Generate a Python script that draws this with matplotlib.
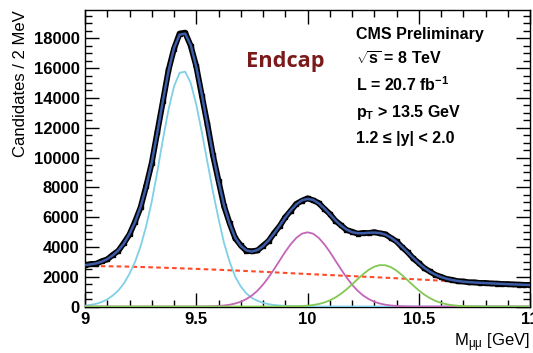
import numpy as np
import matplotlib
matplotlib.use('Agg')
import matplotlib.pyplot as plt

plt.rcParams['font.family'] = ['Liberation Sans', 'DejaVu Sans']
plt.rcParams['mathtext.fontset'] = 'custom'
plt.rcParams['mathtext.rm'] = 'Liberation Sans'
plt.rcParams['mathtext.it'] = 'Liberation Sans:italic'
plt.rcParams['mathtext.bf'] = 'Liberation Sans:bold'

# bin centres, 9 - 11 GeV
mass = np.linspace(9.0, 11.0, 81)

data = [2760, 2850, 2870, 3040, 3160, 3470, 3740, 4270, 4840, 5700,
        6660, 8090, 9640, 11720, 13760, 15850, 17300, 18320, 18380, 17500,
        16120, 14160, 12250, 10160, 8440, 6730, 5590, 4590, 4100, 3740,
        3710, 3760, 4080, 4400, 4930, 5400, 5990, 6430, 6890, 7100,
        7260, 7130, 6950, 6560, 6220, 5760, 5460, 5140, 5020, 4890,
        4940, 4930, 4990, 4910, 4850, 4600, 4370, 3980, 3650, 3230,
        2920, 2570, 2350, 2120, 1990, 1850, 1790, 1700, 1680, 1625,
        1620, 1580, 1580, 1545, 1540, 1510, 1505, 1480, 1475, 1450, 1445]

bkg = [2720, 2716, 2712, 2707, 2702, 2696, 2690, 2683, 2675, 2664,
       2653, 2641, 2630, 2618, 2605, 2593, 2580, 2566, 2553, 2539,
       2525, 2510, 2495, 2480, 2465, 2449, 2433, 2416, 2400, 2383,
       2365, 2348, 2330, 2311, 2293, 2274, 2255, 2236, 2218, 2199,
       2180, 2163, 2145, 2128, 2110, 2093, 2075, 2058, 2040, 2023,
       2005, 1988, 1970, 1951, 1933, 1914, 1895, 1875, 1855, 1835,
       1815, 1795, 1775, 1755, 1735, 1711, 1688, 1664, 1640, 1623,
       1605, 1588, 1570, 1553, 1535, 1518, 1500, 1485, 1470, 1455, 1440]

ups1s = [60, 110, 180, 300, 480, 740, 1080, 1550, 2200, 3000,
         4050, 5400, 7050, 9050, 11200, 13200, 14770, 15680, 15760, 15010,
         13550, 11700, 9700, 7700, 5900, 4250, 3000, 2000, 1350, 880,
         580, 380, 250, 160, 100, 65, 40, 25, 15, 9,
         5, 3, 2, 1] + [0] * 37

ups2s = [0] * 20 + [2, 5, 10, 20, 38, 68, 120, 200, 320, 500,
                    740, 1060, 1470, 1960, 2510, 3090, 3670, 4190, 4610, 4890,
                    4980, 4890, 4610, 4190, 3670, 3090, 2510, 1960, 1470, 1060,
                    740, 500, 320, 200, 120, 68, 38, 20, 10, 5, 2] + [0] * 20

ups3s = [0] * 36 + [4, 8, 16, 31, 57, 99, 167, 267, 411, 604,
                    851, 1148, 1483, 1833, 2171, 2462, 2674, 2780, 2768, 2640,
                    2409, 2106, 1763, 1413, 1084, 797, 561, 378, 244, 151,
                    89, 51, 27, 14, 7, 3] + [0] * 9

xticks = [9.0, 9.5, 10.0, 10.5, 11.0]
xtick_labels = ['9', '9.5', '10', '10.5', '11']
yticks = [0, 2000, 4000, 6000, 8000, 10000, 12000, 14000, 16000, 18000]
ytick_labels = [str(v) for v in yticks]

info = ['CMS Preliminary', r'$\mathbf{\sqrt{s}}$ = 8 TeV',
        r'L = 20.7 fb$^{\mathbf{-1}}$', r'p$_{\mathbf{T}}$ > 13.5 GeV',
        '1.2 \u2264 |y| < 2.0']

data = np.array(data, dtype=float)
total = np.array(bkg) + np.array(ups1s) + np.array(ups2s) + np.array(ups3s)

fig = plt.figure(figsize=(5.33, 3.53), dpi=100)
ax = fig.add_axes((0.1595, 0.1317, 0.8349, 0.8400))

ax.plot(mass, bkg, color='#ff4a2a', lw=1.5, ls=(0, (2.2, 1.6)), zorder=2)
ax.plot(mass, ups1s, color='#7fd0e6', lw=1.3, zorder=3)
ax.plot(mass, ups2s, color='#c466b8', lw=1.3, zorder=3)
ax.plot(mass, ups3s, color='#82c852', lw=1.3, zorder=3)
ax.plot(mass, data, color='black', lw=4.2, zorder=4, solid_capstyle='round')
ax.errorbar(mass, data, yerr=np.sqrt(data), xerr=0.0125, fmt='s', ms=2.5,
            color='black', elinewidth=1.2, capsize=0, zorder=4)
ax.plot(mass, total, color='#3d5ca8', lw=1.8, zorder=5)

ax.set_xlim(9, 11)
ax.set_ylim(0, 19900)
ax.set_xticks(xticks)
ax.set_xticklabels(xtick_labels, fontweight='bold', fontsize=12)
ax.set_xticks(np.arange(9.0, 11.01, 0.1), minor=True)
ax.set_yticks(yticks)
ax.set_yticklabels(ytick_labels, fontweight='bold', fontsize=12)
ax.set_yticks(np.arange(0, 19900, 500), minor=True)
ax.tick_params(which='both', direction='in', top=True, right=True, width=1)
ax.tick_params(which='major', length=10, pad=4)
ax.tick_params(which='minor', length=5)
for s in ax.spines.values():
    s.set_linewidth(1)

ax.set_ylabel('Candidates / 2 MeV', fontsize=12, ha='right')
ax.yaxis.set_label_coords(-0.128, 1.0)
ax.set_xlabel(r'M$_{\mathrm{\mu\mu}}$ [GeV]', fontsize=12, ha='right', va='baseline')
ax.xaxis.set_label_coords(1.0, -0.133)

for i, line in enumerate(info):
    fig.text(356 / 533, 1 - (39 + 26 * i) / 353, line, fontsize=11.5,
             fontweight='bold', va='baseline', ha='left')

fig.text(285 / 533, 1 - 61 / 353, 'Endcap', family='Open Sans',
         fontweight='bold', fontsize=15.7, color='#7b1a1a',
         ha='center', va='center')

fig.savefig('out.png', dpi=100)
